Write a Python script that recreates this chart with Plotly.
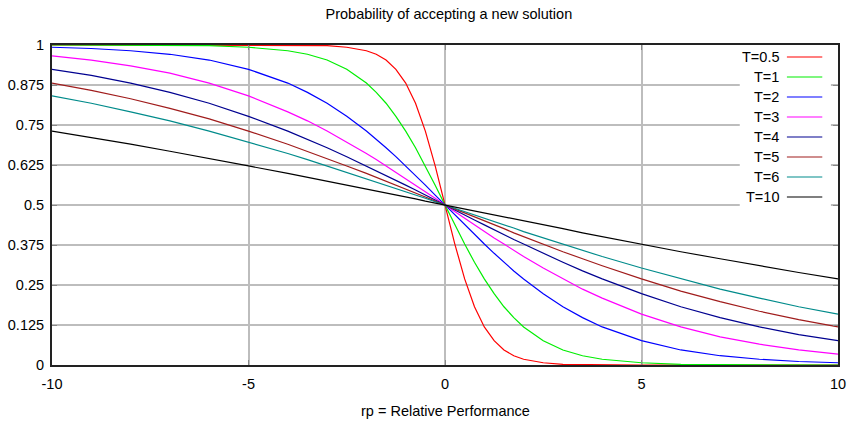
import plotly.graph_objects as go

# Relative performance values (x) sampled along each curve
x_vals = [-10, -9, -8, -7, -6, -5, -4, -3.5, -3, -2.5, -2, -1.75, -1.5, -1.25, -1, -0.75, -0.5, -0.25, 0,
          0.25, 0.5, 0.75, 1, 1.25, 1.5, 1.75, 2, 2.5, 3, 3.5, 4, 5, 6, 7, 8, 9, 10]

# Probabilities, one list per temperature
p_t05 = [1.000, 1.000, 1.000, 1.000, 1.000, 1.000, 1.000, 0.999, 0.998, 0.993, 0.982, 0.971, 0.953, 0.924, 0.881, 0.818, 0.731, 0.622, 0.500,
         0.378, 0.269, 0.182, 0.119, 0.076, 0.047, 0.029, 0.018, 0.007, 0.002, 0.001, 0.000, 0.000, 0.000, 0.000, 0.000, 0.000, 0.000]
p_t1 = [1.000, 1.000, 1.000, 0.999, 0.998, 0.993, 0.982, 0.971, 0.953, 0.924, 0.881, 0.852, 0.818, 0.777, 0.731, 0.679, 0.622, 0.562, 0.500,
        0.438, 0.378, 0.321, 0.269, 0.223, 0.182, 0.148, 0.119, 0.076, 0.047, 0.029, 0.018, 0.007, 0.002, 0.001, 0.000, 0.000, 0.000]
p_t2 = [0.993, 0.989, 0.982, 0.971, 0.953, 0.924, 0.881, 0.852, 0.818, 0.777, 0.731, 0.706, 0.679, 0.651, 0.622, 0.593, 0.562, 0.531, 0.500,
        0.469, 0.438, 0.407, 0.378, 0.349, 0.321, 0.294, 0.269, 0.223, 0.182, 0.148, 0.119, 0.076, 0.047, 0.029, 0.018, 0.011, 0.007]
p_t3 = [0.966, 0.953, 0.935, 0.912, 0.881, 0.841, 0.791, 0.763, 0.731, 0.697, 0.661, 0.642, 0.622, 0.603, 0.583, 0.562, 0.542, 0.521, 0.500,
        0.479, 0.458, 0.438, 0.417, 0.397, 0.378, 0.358, 0.339, 0.303, 0.269, 0.237, 0.209, 0.159, 0.119, 0.088, 0.065, 0.047, 0.034]
p_t4 = [0.924, 0.905, 0.881, 0.852, 0.818, 0.777, 0.731, 0.706, 0.679, 0.651, 0.622, 0.608, 0.593, 0.578, 0.562, 0.547, 0.531, 0.516, 0.500,
        0.484, 0.469, 0.453, 0.438, 0.422, 0.407, 0.392, 0.378, 0.349, 0.321, 0.294, 0.269, 0.223, 0.182, 0.148, 0.119, 0.095, 0.076]
p_t5 = [0.881, 0.858, 0.832, 0.802, 0.769, 0.731, 0.690, 0.668, 0.646, 0.622, 0.599, 0.587, 0.574, 0.562, 0.550, 0.537, 0.525, 0.512, 0.500,
        0.488, 0.475, 0.463, 0.450, 0.438, 0.426, 0.413, 0.401, 0.378, 0.354, 0.332, 0.310, 0.269, 0.231, 0.198, 0.168, 0.142, 0.119]
p_t6 = [0.841, 0.818, 0.791, 0.763, 0.731, 0.697, 0.661, 0.642, 0.622, 0.603, 0.583, 0.572, 0.562, 0.552, 0.542, 0.531, 0.521, 0.510, 0.500,
        0.490, 0.479, 0.469, 0.458, 0.448, 0.438, 0.428, 0.417, 0.397, 0.378, 0.358, 0.339, 0.303, 0.269, 0.237, 0.209, 0.182, 0.159]
p_t10 = [0.731, 0.711, 0.690, 0.668, 0.646, 0.622, 0.599, 0.587, 0.574, 0.562, 0.550, 0.544, 0.537, 0.531, 0.525, 0.519, 0.512, 0.506, 0.500,
         0.494, 0.488, 0.481, 0.475, 0.469, 0.463, 0.456, 0.450, 0.438, 0.426, 0.413, 0.401, 0.378, 0.354, 0.332, 0.310, 0.289, 0.269]

series_names = ["T=0.5", "T=1", "T=2", "T=3", "T=4", "T=5", "T=6", "T=10"]
series_values = [p_t05, p_t1, p_t2, p_t3, p_t4, p_t5, p_t6, p_t10]
series_colors = ["#ff0000", "#00ee00", "#0000ff", "#ff00ff", "#000090", "#a01c1c", "#008b8b", "#000000"]

y_tick_vals = [0, 0.125, 0.25, 0.375, 0.5, 0.625, 0.75, 0.875, 1]
y_tick_text = ["0", "0.125", "0.25", "0.375", "0.5", "0.625", "0.75", "0.875", "1"]
x_tick_vals = [-10, -5, 0, 5, 10]
x_tick_text = ["-10", "-5", "0", "5", "10"]

FONT = "Liberation Sans, Arial, sans-serif"
FS = 14.5

fig = go.Figure()
for name, vals, col in zip(series_names, series_values, series_colors):
    fig.add_trace(go.Scatter(x=x_vals, y=vals, mode="lines", name=name,
                             line=dict(color=col, width=1.2), showlegend=False))

# custom gnuplot-style key: white box, right-aligned labels, sample line to the right
shapes = [dict(type="rect", xref="paper", yref="paper", x0=0.875, x1=0.991, y0=0.482, y1=0.994,
               fillcolor="white", line=dict(width=0), layer="above")]
annotations = []
for i, (name, col) in enumerate(zip(series_names, series_colors)):
    yk = 0.9625 - i * 0.0625
    annotations.append(dict(xref="paper", yref="paper", x=0.927, y=yk, text=name, showarrow=False,
                            xanchor="right", yanchor="middle", font=dict(size=FS, color="black", family=FONT)))
    shapes.append(dict(type="line", xref="paper", yref="paper", x0=0.935, x1=0.980, y0=yk, y1=yk,
                       line=dict(color=col, width=1.2), layer="above"))

annotations.append(dict(xref="paper", yref="paper", x=0.5, y=-0.145, text="rp = Relative Performance",
                        showarrow=False, xanchor="center", yanchor="middle",
                        font=dict(size=FS, color="black", family=FONT)))

fig.update_layout(
    width=855, height=426,
    margin=dict(l=52, r=17, t=45, b=61, autoexpand=False),
    paper_bgcolor="white", plot_bgcolor="white",
    font=dict(family=FONT, size=FS, color="black"),
    title=dict(text="Probability of accepting a new solution", x=0.525, xanchor="center",
               y=1 - 14 / 426, yanchor="middle", font=dict(size=FS, color="black", family=FONT)),
    shapes=shapes, annotations=annotations,
)
fig.update_xaxes(range=[-10, 10], tickvals=x_tick_vals, ticktext=x_tick_text, automargin=False,
                 showgrid=True, gridcolor="#bdbdbd", gridwidth=1.5, zeroline=False,
                 showline=True, linecolor="#222222", linewidth=2, mirror="ticks",
                 ticks="inside", ticklen=5, tickcolor="#888888", ticklabelstandoff=5)
fig.update_yaxes(range=[0, 1], tickvals=y_tick_vals, ticktext=y_tick_text, automargin=False,
                 showgrid=True, gridcolor="#bdbdbd", gridwidth=1.5, zeroline=False,
                 showline=True, linecolor="#222222", linewidth=2, mirror="ticks",
                 ticks="inside", ticklen=5, tickcolor="#888888", ticklabelstandoff=3)

# remove the default page margin so the figure fills the window exactly; hide the mode bar
fig.write_html("out.html", config={"displayModeBar": False},
               post_script="document.body.style.margin='0';")
